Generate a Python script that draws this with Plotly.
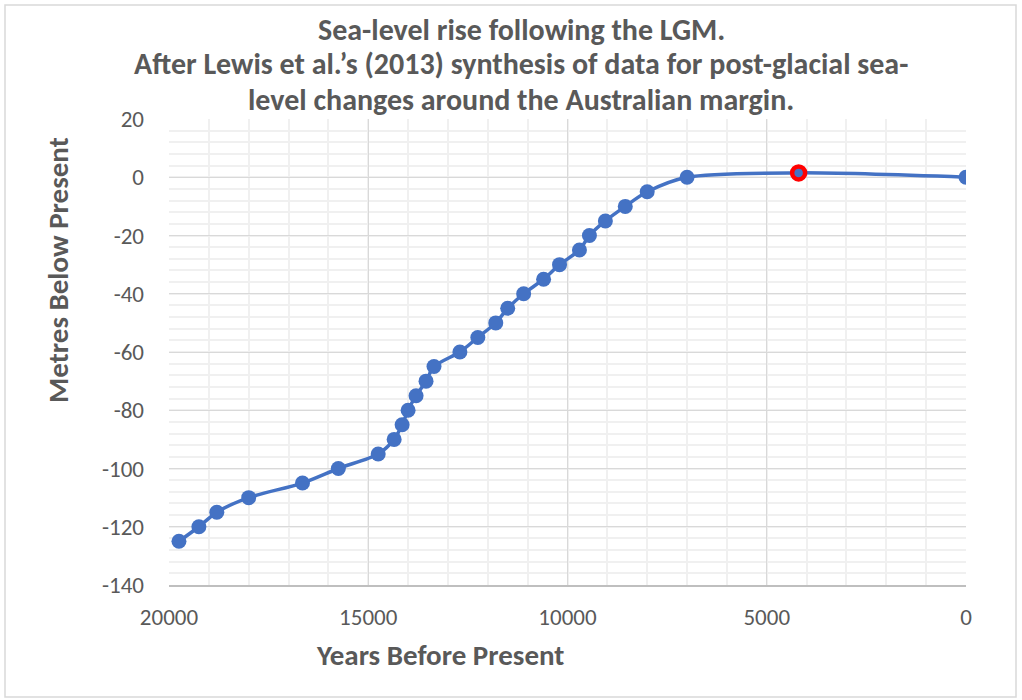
import plotly.graph_objects as go

years = [19750, 19250, 18800, 18000, 16650, 15750, 14750, 14350, 14150, 14000,
         13800, 13550, 13350, 12700, 12250, 11800, 11500, 11100, 10600, 10200,
         9700, 9450, 9050, 8550, 8000, 7000, 4200, 0]
level = [-125, -120, -115, -110, -105, -100, -95, -90, -85, -80,
         -75, -70, -65, -60, -55, -50, -45, -40, -35, -30,
         -25, -20, -15, -10, -5, 0, 1.5, 0]
highlight_year = [4200]
highlight_level = [1.5]

x_ticks = [20000, 15000, 10000, 5000, 0]
x_labels = ["20000", "15000", "10000", "5000", "0"]
y_ticks = [20, 0, -20, -40, -60, -80, -100, -120, -140]
y_labels = ["20", "0", "-20", "-40", "-60", "-80", "-100", "-120", "-140"]

title_lines = ["Sea-level rise following the LGM.",
               "After Lewis et al.’s (2013) synthesis of data for post-glacial sea-",
               "level changes around the Australian margin."]

FONT = "Carlito, Calibri, Lato, sans-serif"
GRAY = "#595959"
BLUE = "#4472C4"

# pixel geometry of the plot area (body margin removed via post_script)
PL, PR, PT, PB = 169, 966, 119, 585
W, H = 1022, 700


def px(xp):
    return (xp - PL) / (PR - PL)


def py(yp):
    return (PB - yp) / (PB - PT)


fig = go.Figure()
fig.add_trace(go.Scatter(
    x=years, y=level, mode="lines+markers",
    line=dict(color=BLUE, width=3.5, shape="spline", smoothing=0.8),
    marker=dict(color=BLUE, size=15),
    showlegend=False, hoverinfo="x+y"))
fig.add_trace(go.Scatter(
    x=highlight_year, y=highlight_level, mode="markers",
    marker=dict(color=BLUE, size=13, line=dict(color="#FF0000", width=4.5)),
    showlegend=False))

fig.update_layout(
    width=W, height=H,
    margin=dict(l=PL, r=W - PR, t=PT, b=H - PB),
    paper_bgcolor="white", plot_bgcolor="white",
    font=dict(family=FONT, color=GRAY, size=23),
)
fig.update_xaxes(
    range=[20000, 0], tickvals=x_ticks, ticktext=x_labels, ticks="",
    showline=True, linecolor="#BFBFBF", linewidth=1.5, mirror=False,
    showgrid=True, gridcolor="#D9D9D9", gridwidth=1.2,
    minor=dict(dtick=1000, showgrid=True, gridcolor="#F0F0F0", gridwidth=1.5),
    zeroline=False, tickfont=dict(size=23, color=GRAY), ticklabelstandoff=11)
fig.update_yaxes(
    range=[-140, 20], tickvals=y_ticks, ticktext=y_labels, ticks="",
    showline=False,
    showgrid=True, gridcolor="#D9D9D9", gridwidth=1.2,
    minor=dict(dtick=4, showgrid=True, gridcolor="#F0F0F0", gridwidth=1.5),
    zeroline=False, tickfont=dict(size=23, color=GRAY), ticklabelstandoff=24)

for line, yc in zip(title_lines, [29, 64, 99]):
    fig.add_annotation(text=line, xref="paper", yref="paper",
                       x=px(521), y=py(yc), showarrow=False,
                       xanchor="center", yanchor="middle",
                       font=dict(family=FONT, size=30, color=GRAY, weight="bold"))

fig.add_annotation(text="Years Before Present", xref="paper", yref="paper",
                   x=px(440), y=py(655), showarrow=False,
                   xanchor="center", yanchor="middle",
                   font=dict(family=FONT, size=29, color=GRAY, weight="bold"))
fig.add_annotation(text="Metres Below Present", xref="paper", yref="paper",
                   x=px(58), y=py(270), showarrow=False,
                   textangle=-90, xanchor="center", yanchor="middle",
                   font=dict(family=FONT, size=29, color=GRAY, weight="bold"))
# chart-area border
fig.add_shape(type="rect", xref="paper", yref="paper",
              x0=px(5), x1=px(1016), y0=py(697), y1=py(5),
              line=dict(color="#D9D9D9", width=1.5), fillcolor="rgba(0,0,0,0)",
              layer="below")

fig.write_html("out.html",
               config={"displayModeBar": False},
               post_script="document.body.style.margin='0';")
